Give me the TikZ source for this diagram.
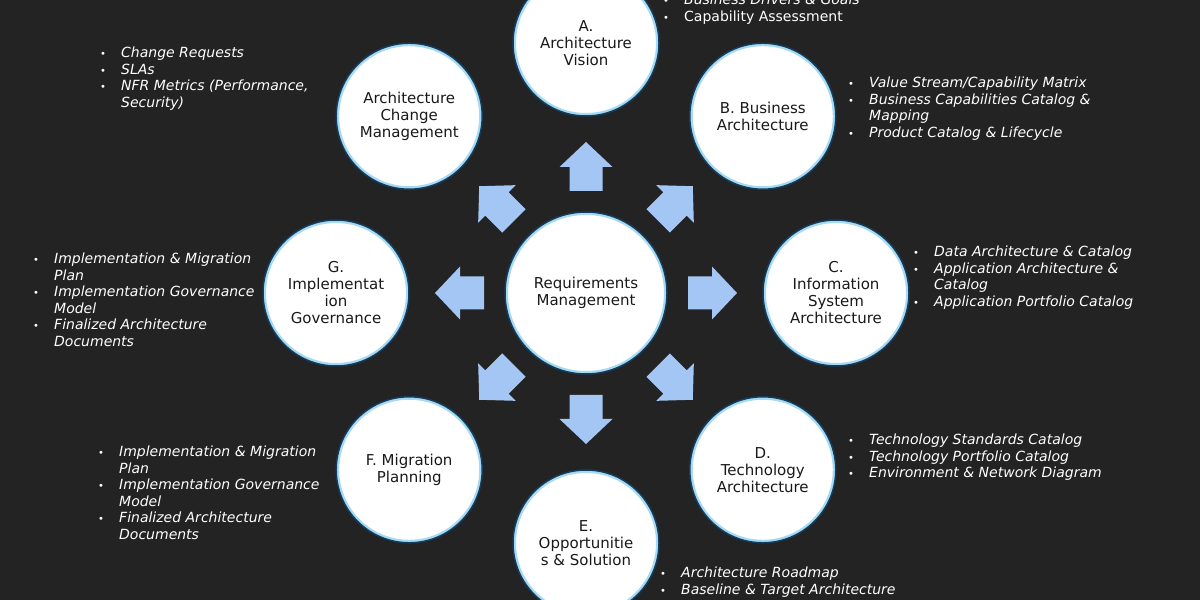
\documentclass[tikz,border=0pt]{standalone}
\usepackage{fontspec}
\setmainfont{DejaVu Sans}
\usetikzlibrary{calc}
\definecolor{bg}{RGB}{35,35,35}
\definecolor{arrowblue}{RGB}{164,198,244}
\definecolor{ringout}{RGB}{20,60,95}
\definecolor{ringin}{RGB}{165,218,242}
\newcommand{\pbul}{\makebox[21pt][l]{\fontsize{10}{10}\selectfont •}}
\newcommand{\pind}{\hspace*{21pt}}
\tikzset{
 phase/.style={circle, minimum size=146pt, inner sep=0pt, fill=white, draw=ringout, line width=1.5pt,
   align=center, font=\fontsize{15}{17}\selectfont, text=black!90,
   path picture={\draw[ringin, line width=6pt] (path picture bounding box.center) circle (73pt);}},
 hub/.style={phase, minimum size=162pt,
   path picture={\draw[ringin, line width=6pt] (path picture bounding box.center) circle (81pt);}},
 barrow/.style={fill=arrowblue, draw=none},
 notes/.style={inner sep=0pt, anchor=base west, text=white, font=\fontsize{14}{16.5}\selectfont}
}
\begin{document}
\begin{tikzpicture}[x=1pt,y=1pt]
\fill[bg] (0,0) rectangle (1200,600);
\useasboundingbox (0,0) rectangle (1200,600);

\node[hub] (rm) at (586,307) {Requirements\\Management};
\node[phase] (a) at ($(rm)+(90:250)$) {A.\\Architecture\\Vision};
\node[phase] (b) at ($(rm)+(45:250)$) {B. Business\\Architecture};
\node[phase] (c) at ($(rm)+(0:250)$) {C.\\Information\\System\\Architecture};
\node[phase] (d) at ($(rm)+(-45:250)$) {D.\\Technology\\Architecture};
\node[phase] (e) at ($(rm)+(-90:250)$) {E.\\Opportunitie\\s \& Solution};
\node[phase] (f) at ($(rm)+(-135:250)$) {F. Migration\\Planning};
\node[phase] (g) at ($(rm)+(180:250)$) {G.\\Implementat\\ion\\Governance};
\node[phase] (h) at ($(rm)+(135:250)$) {Architecture\\Change\\Management};

\foreach \ang in {0,45,...,315}
  \fill[barrow, shift={(rm.center)}, rotate=\ang]
    (102,-16.5) -- (126,-16.5) -- (126,-26.5) -- (151,0) -- (126,26.5) -- (126,16.5) -- (102,16.5) -- cycle;

\node[notes] (na) at (663,595) {\begin{tabular}[t]{@{}l@{}}
\pbul\textit{Business Drivers \& Goals}\\
\pbul Capability Assessment\end{tabular}};

\node[notes] (nh) at (100,542) {\begin{tabular}[t]{@{}l@{}}
\pbul\textit{Change Requests}\\
\pbul\textit{SLAs}\\
\pbul\textit{NFR Metrics (Performance,}\\
\pind\textit{Security)}\end{tabular}};

\node[notes] (nb) at (848,512) {\begin{tabular}[t]{@{}l@{}}
\pbul\textit{Value Stream/Capability Matrix}\\
\pbul\textit{Business Capabilities Catalog \&}\\
\pind\textit{Mapping}\\
\pbul\textit{Product Catalog \& Lifecycle}\end{tabular}};

\node[notes] (nc) at (913,343) {\begin{tabular}[t]{@{}l@{}}
\pbul\textit{Data Architecture \& Catalog}\\
\pbul\textit{Application Architecture \&}\\
\pind\textit{Catalog}\\
\pbul\textit{Application Portfolio Catalog}\end{tabular}};

\node[notes] (ng) at (33,336) {\begin{tabular}[t]{@{}l@{}}
\pbul\textit{Implementation \& Migration}\\
\pind\textit{Plan}\\
\pbul\textit{Implementation Governance}\\
\pind\textit{Model}\\
\pbul\textit{Finalized Architecture}\\
\pind\textit{Documents}\end{tabular}};

\node[notes] (nf) at (98,143) {\begin{tabular}[t]{@{}l@{}}
\pbul\textit{Implementation \& Migration}\\
\pind\textit{Plan}\\
\pbul\textit{Implementation Governance}\\
\pind\textit{Model}\\
\pbul\textit{Finalized Architecture}\\
\pind\textit{Documents}\end{tabular}};

\node[notes] (nd) at (848,155) {\begin{tabular}[t]{@{}l@{}}
\pbul\textit{Technology Standards Catalog}\\
\pbul\textit{Technology Portfolio Catalog}\\
\pbul\textit{Environment \& Network Diagram}\end{tabular}};

\node[notes] (ne) at (660,22) {\begin{tabular}[t]{@{}l@{}}
\pbul\textit{Architecture Roadmap}\\
\pbul\textit{Baseline \& Target Architecture}\end{tabular}};
\end{tikzpicture}
\end{document}
